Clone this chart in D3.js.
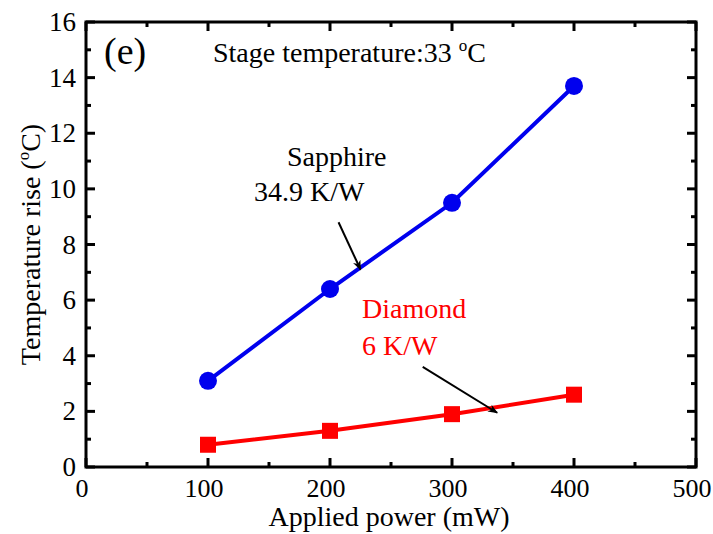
<!DOCTYPE html>
<html>
<head>
<meta charset="utf-8">
<script src="https://cdn.jsdelivr.net/npm/d3@7"></script>
<style>
  body { margin: 0; background: #fff; }
  text { font-family: "Liberation Serif", "Times New Roman", serif; }
</style>
</head>
<body>
<svg id="chart" width="713" height="534"></svg>
<script>
// data
var power = [100, 200, 300, 400];
var sapphire = [3.1, 6.4, 9.5, 13.7];
var diamond = [0.8, 1.3, 1.9, 2.6];
var xTicks = [0, 100, 200, 300, 400, 500];
var yTicks = [0, 2, 4, 6, 8, 10, 12, 14, 16];

var svg = d3.select("#chart");
var pLeft = 86, pRight = 696, pTop = 22, pBottom = 467;

var x = d3.scaleLinear().domain([0, 500]).range([pLeft, pRight]);
var y = d3.scaleLinear().domain([0, 16]).range([pBottom, pTop]);

svg.append("defs").append("marker")
    .attr("id", "arr").attr("viewBox", "0 0 10 10")
    .attr("refX", 9).attr("refY", 5)
    .attr("markerWidth", 7).attr("markerHeight", 5)
    .attr("markerUnits", "strokeWidth")
    .attr("orient", "auto")
  .append("path").attr("d", "M0,1 L10,5 L0,9 L3,5 Z").attr("fill", "#000");

// axes: inward ticks on all four sides
var minorX = d3.range(50, 500, 100), minorY = d3.range(1, 16, 2);
function ticks(g, scale, vals, len, orient) {
  vals.forEach(function(v) {
    var p = scale(v);
    if (orient == "bottom") g.append("line").attr("x1", p).attr("x2", p).attr("y1", pBottom).attr("y2", pBottom - len);
    if (orient == "top") g.append("line").attr("x1", p).attr("x2", p).attr("y1", pTop).attr("y2", pTop + len);
    if (orient == "left") g.append("line").attr("y1", p).attr("y2", p).attr("x1", pLeft).attr("x2", pLeft + len);
    if (orient == "right") g.append("line").attr("y1", p).attr("y2", p).attr("x1", pRight).attr("x2", pRight - len);
  });
}
var tg = svg.append("g").attr("stroke", "#000").attr("stroke-width", 3);
ticks(tg, x, xTicks, 9, "bottom"); ticks(tg, x, minorX, 5, "bottom");
ticks(tg, x, xTicks, 9, "top"); ticks(tg, x, minorX, 5, "top");
ticks(tg, y, yTicks, 9, "left"); ticks(tg, y, minorY, 5, "left");
ticks(tg, y, yTicks, 9, "right"); ticks(tg, y, minorY, 5, "right");

svg.append("rect").attr("x", pLeft).attr("y", pTop)
    .attr("width", pRight - pLeft).attr("height", pBottom - pTop)
    .attr("fill", "none").attr("stroke", "#000").attr("stroke-width", 3);

svg.selectAll(".xl").data(xTicks).enter().append("text")
    .attr("x", function(d) { return x(d) - 4; }).attr("y", 497)
    .attr("text-anchor", "middle").attr("font-size", 26).text(function(d) { return d; });
svg.selectAll(".yl").data(yTicks).enter().append("text")
    .attr("x", pLeft - 10).attr("y", function(d) { return y(d) + 9; })
    .attr("text-anchor", "end").attr("font-size", 27).text(function(d) { return d; });

svg.append("text").attr("x", 389).attr("y", 526)
    .attr("text-anchor", "middle").attr("font-size", 28).text("Applied power (mW)");
var yl = svg.append("text").attr("transform", "translate(40," + ((pTop + pBottom) / 2) + ") rotate(-90)")
    .attr("text-anchor", "middle").attr("font-size", 28);
yl.append("tspan").text("Temperature rise (");
yl.append("tspan").attr("font-size", 17).attr("dy", -11).text("o");
yl.append("tspan").attr("dy", 11).text("C)");

// series
var line = d3.line().x(function(d) { return x(d[0]); }).y(function(d) { return y(d[1]); });
var sData = d3.zip(power, sapphire), dData = d3.zip(power, diamond);

svg.append("path").datum(sData).attr("d", line)
    .attr("fill", "none").attr("stroke", "#0000ee").attr("stroke-width", 4);
svg.selectAll(".sp").data(sData).enter().append("circle")
    .attr("cx", function(d) { return x(d[0]); }).attr("cy", function(d) { return y(d[1]); })
    .attr("r", 9).attr("fill", "#0000ee");

svg.append("path").datum(dData).attr("d", line)
    .attr("fill", "none").attr("stroke", "#ff0000").attr("stroke-width", 4);
svg.selectAll(".dp").data(dData).enter().append("rect")
    .attr("x", function(d) { return x(d[0]) - 8; }).attr("y", function(d) { return y(d[1]) - 8; })
    .attr("width", 16).attr("height", 16).attr("fill", "#ff0000");

// annotations
svg.append("text").attr("x", 104).attr("y", 64).attr("font-size", 38).text("(e)");
var st = svg.append("text").attr("x", 213).attr("y", 62).attr("font-size", 28);
st.append("tspan").text("Stage temperature:33 ");
st.append("tspan").attr("font-size", 17).attr("dy", -11).text("o");
st.append("tspan").attr("dy", 11).text("C");

svg.append("text").attr("x", 287).attr("y", 166).attr("font-size", 28).text("Sapphire");
svg.append("text").attr("x", 254).attr("y", 201).attr("font-size", 28).text("34.9 K/W");
svg.append("line").attr("x1", x(207)).attr("y1", y(8.8)).attr("x2", x(225)).attr("y2", y(7.1))
    .attr("stroke", "#000").attr("stroke-width", 2).attr("marker-end", "url(#arr)");

svg.append("text").attr("x", 362).attr("y", 318).attr("font-size", 28).attr("fill", "#ff0000").text("Diamond");
svg.append("text").attr("x", 362).attr("y", 355).attr("font-size", 28).attr("fill", "#ff0000").text("6 K/W");
svg.append("line").attr("x1", x(276)).attr("y1", y(3.6)).attr("x2", x(337)).attr("y2", y(1.95))
    .attr("stroke", "#000").attr("stroke-width", 2).attr("marker-end", "url(#arr)");
</script>
</body>
</html>
